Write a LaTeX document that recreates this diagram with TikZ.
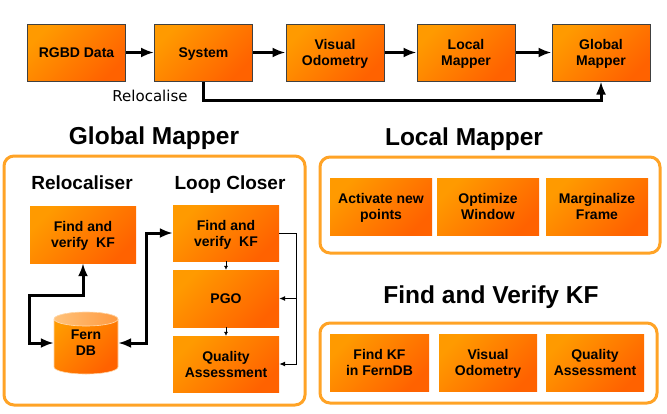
\documentclass[tikz,border=0pt]{standalone}
\usepackage{fontspec}
\setmainfont{Liberation Sans}
\newfontfamily\relofont{DejaVu Sans}
\usetikzlibrary{arrows.meta,calc}
\definecolor{olight}{HTML}{FF9A00}
\definecolor{odark}{HTML}{FF6200}
\definecolor{oframe}{HTML}{FFA326}
\definecolor{ftopl}{HTML}{FFC27A}
\definecolor{ftopd}{HTML}{FF9A40}
\begin{document}
\begin{tikzpicture}[x=1pt,y=1pt,
  box/.style={top color=olight,bottom color=odark,shading angle=45,
    minimum width=98pt,minimum height=57pt,inner sep=0pt,align=center,text depth=0pt,
    font=\fontsize{14}{16}\selectfont\bfseries},
  topbox/.style={box,draw=black!75,line width=1pt},
  frame/.style={draw=oframe,line width=3pt,rounded corners=10pt},
  bigtitle/.style={anchor=base,inner sep=0pt,font=\fontsize{24.5}{28}\selectfont\bfseries},
  subtitle/.style={anchor=base,inner sep=0pt,font=\fontsize{19}{23}\selectfont\bfseries},
  fatarrow/.style={line width=3pt,-{Latex[length=13pt,width=10pt]}},
  fatboth/.style={line width=3pt,{Latex[length=13pt,width=10pt]}-{Latex[length=13pt,width=10pt]}},
  thinarrow/.style={line width=1pt,-{Latex[length=6pt,width=5pt]}},
  tinyarrow/.style={line width=0.6pt,-{Latex[length=4pt,width=4pt]}}
]
\useasboundingbox (0,0) rectangle (667,-413);
\fill[white] (0,0) rectangle (667,-413);

% ---------- top row ----------
\node[topbox] (rgbd) at (76.5,-52.5) {RGBD Data};
\node[topbox] (sys)  at (203.5,-52.5) {System};
\node[topbox] (vo)   at (335,-52.5) {Visual\\Odometry};
\node[topbox] (lm)   at (466,-52.5) {Local\\Mapper};
\node[topbox] (gm)   at (601,-52.5) {Global\\Mapper};
\draw[fatarrow] (rgbd) -- (sys);
\draw[fatarrow] (sys) -- (vo);
\draw[fatarrow] (vo) -- (lm);
\draw[fatarrow] (lm) -- (gm);
\coordinate (relo) at (203.5,-100);
\draw[fatarrow] (sys.south) -- (relo) -| (gm.south);
\node[anchor=base,inner sep=0pt,font=\relofont\fontsize{15}{18}\selectfont] (relotxt) at (150,-101.5) {Relocalise};

% ---------- Global Mapper ----------
\node[bigtitle] (gmt) at (154,-144) {Global Mapper};
\draw[frame] (4,-156) rectangle (305,-405);
\node[subtitle] (relt) at (82,-189) {Relocaliser};
\node[subtitle] (lct) at (230,-189) {Loop Closer};

\node[box,minimum width=106pt] (rfind) at (83,-234.5) {Find and\\verify\ \ KF};
\node[box,minimum width=106pt,minimum height=56pt] (lfind) at (226,-233) {Find and\\verify\ \ KF};
\node[box,minimum width=106pt] (pgo) at (226,-298.5) {PGO};
\node[box,minimum width=106pt,minimum height=56pt] (qa) at (226,-364) {Quality\\Assessment};

% cylinder
\path[top color=olight,bottom color=odark,shading angle=45]
  (54,-319) -- (54,-367) arc[start angle=180,end angle=360,x radius=32,y radius=7]
  -- (118,-319) arc[start angle=0,end angle=180,x radius=32,y radius=7] -- cycle;
\draw[ftopl!70!white,line width=0.6pt]
  (54,-319) -- (54,-367) arc[start angle=180,end angle=360,x radius=32,y radius=7] -- (118,-319);
\path[left color=ftopl,right color=ftopd] (86,-319) ellipse[x radius=32,y radius=7];
\draw[ftopl!60!white,line width=0.6pt] (86,-319) ellipse[x radius=32,y radius=7];
\node[minimum width=64pt,minimum height=62pt,inner sep=0pt,align=center,text depth=0pt,
  font=\fontsize{14}{16}\selectfont\bfseries] (fern) at (86,-343) {Fern\\DB};

\draw[fatboth] (fern.west) -- ++(-24,0) |- ($(rfind.south)+(0,-32)$) -- (rfind.south);
\draw[fatboth] (fern.east) -- ++(28,0) |- (lfind.west);

\draw[tinyarrow] (lfind.south) -- (pgo.north);
\draw[tinyarrow] (pgo.south) -- (qa.north);
\coordinate (rail) at ($(lfind.east)+(17,0)$);
\draw[thinarrow] (lfind.east) -- (rail) |- (qa.east);
\draw[thinarrow] (rail) |- (pgo.east);

% ---------- Local Mapper ----------
\node[bigtitle] (lmt) at (464,-145) {Local Mapper};
\draw[frame] (320,-157) rectangle (660,-253);
\node[box,minimum width=102pt] (act) at (381,-206.5) {Activate new\\points};
\node[box,minimum width=102pt] (opt) at (488,-206.5) {Optimize\\Window};
\node[box,minimum width=102pt] (marg) at (597,-206.5) {Marginalize\\Frame};

% ---------- Find and Verify KF ----------
\node[bigtitle] (fvt) at (491,-303) {Find and Verify KF};
\draw[frame] (320,-323) rectangle (657,-403);
\node[box,minimum width=99pt] (fkf) at (379.5,-362.5) {Find KF\\in FernDB};
\node[box] (fvo) at (488,-362.5) {Visual\\Odometry};
\node[box] (fqa) at (595,-362.5) {Quality\\Assessment};
\end{tikzpicture}
\end{document}
